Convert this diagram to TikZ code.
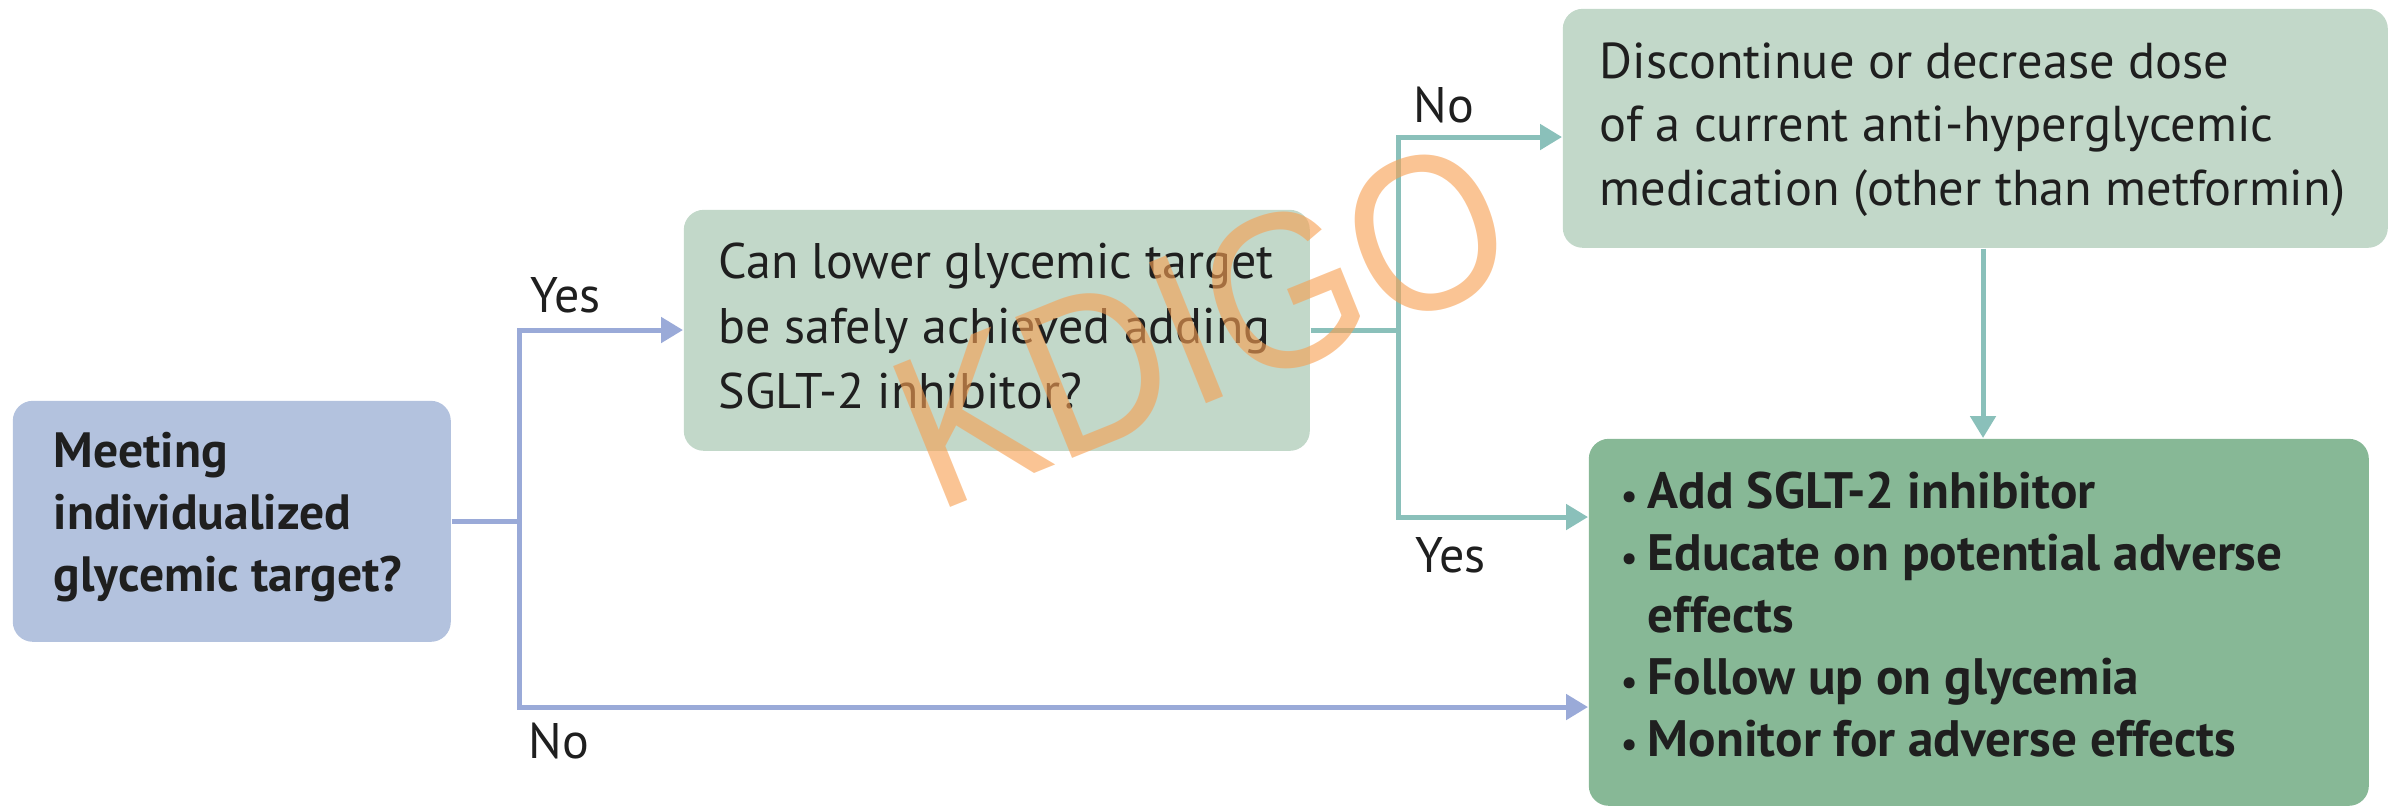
\documentclass[tikz,border=0pt]{standalone}
\usepackage{fontspec}
\setmainfont{PT Sans}
\newfontfamily\stampfont{Liberation Sans}
\usetikzlibrary{arrows.meta}

\definecolor{bluebox}{RGB}{179,194,222}
\definecolor{blueline}{RGB}{154,170,216}
\definecolor{greenlight}{RGB}{194,216,201}
\definecolor{greendark}{RGB}{135,184,150}
\definecolor{tealline}{RGB}{138,192,186}
\definecolor{stamp}{RGB}{247,160,83}

% several lines of text, baseline at the first line
\newcommand\boxlines[1]{\begin{tabular}[t]{@{}l@{}}#1\end{tabular}}
\newcommand\itm{\makebox[7.25pt][l]{\hspace{0.6pt}{\fontsize{9pt}{9pt}\selectfont\textbullet}}}

\begin{document}
\begin{tikzpicture}[x=0.25pt,y=-0.25pt,
  panel/.style={rounded corners=5pt, inner sep=0pt, anchor=north west},
  txt/.style={anchor=base west, inner sep=0pt, text=black!88},
  lbl/.style={anchor=base west, inner sep=0pt, text=black!88,
    font=\fontsize{12.5pt}{15pt}\selectfont},
  wire/.style={line width=1.25pt},
  flow/.style={line width=1.25pt, -{Triangle[length=5.5pt,width=6.25pt]}},
]
\useasboundingbox (0,0) rectangle (2394,807);

% boxes
\node[panel, fill=bluebox, minimum width=109.5pt, minimum height=60.25pt] (boxA) at (12,400) {};
\node[panel, fill=greenlight, minimum width=156.5pt, minimum height=60.25pt] (boxB) at (683,209) {};
\node[panel, fill=greenlight, minimum width=206.25pt, minimum height=59.75pt] (boxC) at (1562,8) {};
\node[panel, fill=greendark, minimum width=195pt, minimum height=91.75pt] (boxD) at (1588,438) {};

% box texts
\node[txt, font=\bfseries\fontsize{12.4pt}{15.5pt}\selectfont] (txtA) at (53,467)
  {\boxlines{Meeting\\individualized\\glycemic target?}};
\node[txt, font=\fontsize{12.5pt}{16.25pt}\selectfont] (txtB) at (718,278)
  {\boxlines{Can lower glycemic target\\be safely achieved adding\\SGLT-2 inhibitor?}};
\node[txt, font=\fontsize{12.6pt}{15.9pt}\selectfont] (txtC) at (1599,78)
  {\boxlines{Discontinue or decrease dose\\of a current anti-hyperglycemic\\medication (other than metformin)}};
\node[txt, font=\bfseries\fontsize{12.8pt}{15.5pt}\selectfont] (txtD) at (1618,508)
  {\boxlines{\itm Add SGLT-2 inhibitor\\\itm Educate on potential adverse\\\hspace*{7.25pt}effects\\\itm Follow up on glycemia\\\itm Monitor for adverse effects}};

% branch labels
\node[lbl] (yes1) at (530,312) {Yes};
\node[lbl] (no1) at (528,758) {No};
\node[lbl] (no2) at (1413,122) {No};
\node[lbl] (yes2) at (1415,572) {Yes};

% first decision
\coordinate (s1) at (519,330);
\coordinate (s2) at (519,707);
\draw[wire, blueline] (boxA.east) -- (boxA.east -| s1);
\draw[flow, blueline] (s2) -- (s1) -- (boxB.west |- s1);
\draw[flow, blueline] (s1) -- (s2) -- (boxD.west |- s2);

% second decision
\coordinate (t1) at (1398,137);
\coordinate (t2) at (1398,517);
\draw[wire, tealline] (boxB.east) -- (boxB.east -| t1);
\draw[flow, tealline] (t2) -- (t1) -- (boxC.west |- t1);
\draw[flow, tealline] (t1) -- (t2) -- (boxD.west |- t2);

% dose change leads to adding the inhibitor
\coordinate (v) at (1983,0);
\draw[flow, tealline] (boxC.south -| v) -- (boxD.north -| v);

% stamp, faded as a whole
\begin{scope}[transparency group, opacity=0.62]
  \begin{scope}[shift={(1202,324)}, rotate=22, xscale=1.03, yscale=1.15, transform shape]
    \node[text=stamp, inner sep=0pt,
      font=\stampfont\fontsize{48pt}{48pt}\selectfont] (mark) at (0,0) {KDIGO};
  \end{scope}
\end{scope}
\end{tikzpicture}
\end{document}
